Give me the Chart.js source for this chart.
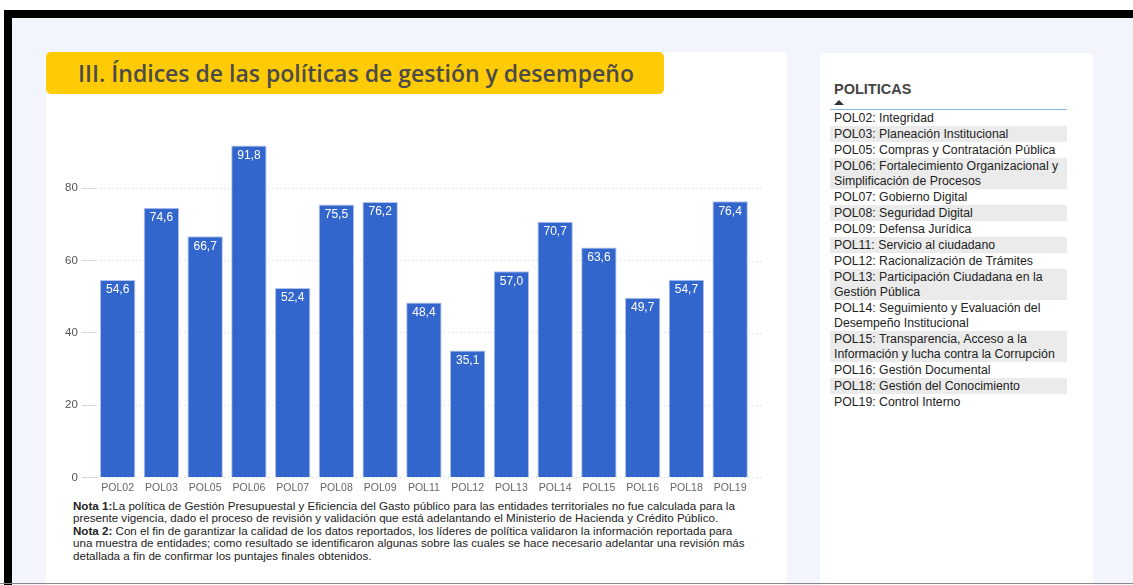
<!DOCTYPE html>
<html lang="es">
<head>
<meta charset="utf-8">
<title>Índices de las políticas de gestión y desempeño</title>
<script src="https://cdn.jsdelivr.net/npm/chart.js@4.4.1/dist/chart.umd.min.js"></script>
<style>
  html, body { margin: 0; padding: 0; width: 1133px; height: 585px; overflow: hidden; background: #fff; font-family: "Liberation Sans", Arial, sans-serif; }
  .frame { position: absolute; left: 4px; top: 10px; right: 0; bottom: 0; border-top: 8px solid #000; border-left: 8px solid #000; background: #f2f5fc; }
  .bottomLine { position: absolute; left: 0; right: 0; top: 583px; height: 1px; background: #888; }
  .card { position: absolute; background: #fff; border-radius: 5px; }
  #leftCard { left: 46px; top: 52px; width: 741px; height: 540px; }
  #rightCard { left: 820px; top: 53px; width: 273px; height: 540px; }
  .banner { position: absolute; left: 46px; top: 52px; width: 618px; height: 42px; background: #ffcb05; border-radius: 5px; }
  .banner h1 { margin: 0; position: absolute; left: 32px; top: 5px; font: 600 23px "Open Sans", sans-serif; color: #4b4b4b; white-space: nowrap; }
  .chartBox { position: absolute; left: 46px; top: 100px; width: 741px; height: 398px; }
  .notes { position: absolute; left: 73px; top: 500px; font-size: 11.6px; line-height: 12.4px; color: #222; white-space: nowrap; }
  .legendTitle { position: absolute; left: 834px; top: 81px; font: bold 14.5px "Liberation Sans", Arial, sans-serif; color: #444; }
  .tri { position: absolute; left: 834px; top: 100px; width: 0; height: 0; border-left: 5px solid transparent; border-right: 5px solid transparent; border-bottom: 5px solid #333; }
  #legendList { position: absolute; left: 830px; top: 109px; width: 237px; border-top: 1px solid #86b5e6; font-size: 12.3px; line-height: 15px; color: #222; }
  #legendList div { padding: 0.5px 4px; }
  #legendList div:nth-child(even) { background: #ebebeb; }
</style>
</head>
<body>
<div class="frame"></div>
<div class="card" id="leftCard"></div>
<div class="card" id="rightCard"></div>
<div class="banner"><h1>III. Índices de las políticas de gestión y desempeño</h1></div>
<div class="chartBox"><canvas id="chartPol"></canvas></div>
<div class="notes">
  <b>Nota 1:</b>La política de Gestión Presupuestal y Eficiencia del Gasto público para las entidades territoriales no fue calculada para la<br>
  presente vigencia, dado el proceso de revisión y validación que está adelantando el Ministerio de Hacienda y Crédito Público.<br>
  <b>Nota 2:</b> Con el fin de garantizar la calidad de los datos reportados, los líderes de política validaron la información reportada para<br>
  una muestra de entidades; como resultado se identificaron algunas sobre las cuales se hace necesario adelantar una revisión más<br>
  detallada a fin de confirmar los puntajes finales obtenidos.
</div>
<div class="legendTitle">POLITICAS</div>
<div class="tri"></div>
<div id="legendList"></div>
<div class="bottomLine"></div>

<script>
  // datos
  const politicas = ['POL02','POL03','POL05','POL06','POL07','POL08','POL09','POL11','POL12','POL13','POL14','POL15','POL16','POL18','POL19'];
  const indices = [54.6, 74.6, 66.7, 91.8, 52.4, 75.5, 76.2, 48.4, 35.1, 57.0, 70.7, 63.6, 49.7, 54.7, 76.4];
  const nombres = [
    'Integridad',
    'Planeación Institucional',
    'Compras y Contratación Pública',
    'Fortalecimiento Organizacional y Simplificación de Procesos',
    'Gobierno Digital',
    'Seguridad Digital',
    'Defensa Jurídica',
    'Servicio al ciudadano',
    'Racionalización de Trámites',
    'Participación Ciudadana en la Gestión Pública',
    'Seguimiento y Evaluación del Desempeño Institucional',
    'Transparencia, Acceso a la Información y lucha contra la Corrupción',
    'Gestión Documental',
    'Gestión del Conocimiento',
    'Control Interno'
  ];
  const yTicks = [0, 20, 40, 60, 80];

  const list = document.getElementById('legendList');
  politicas.forEach((p, i) => {
    const d = document.createElement('div');
    d.textContent = p + ': ' + nombres[i];
    list.appendChild(d);
  });

  const fmt = v => v.toFixed(1).replace('.', ',');

  // etiquetas blancas dentro de cada barra
  const valueLabels = {
    id: 'valueLabels',
    afterDatasetsDraw(chart) {
      const ctx = chart.ctx;
      const meta = chart.getDatasetMeta(0);
      ctx.save();
      ctx.fillStyle = '#fff';
      ctx.font = '12px "Liberation Sans", Arial, sans-serif';
      ctx.textAlign = 'center';
      ctx.textBaseline = 'middle';
      meta.data.forEach((bar, i) => {
        ctx.fillText(fmt(indices[i]), bar.x, bar.y + 10);
      });
      ctx.restore();
    }
  };

  // las líneas de la cuadrícula sobresalen un poco a la derecha
  const gridTail = {
    id: 'gridTail',
    beforeDatasetsDraw(chart) {
      const ctx = chart.ctx, y = chart.scales.y, right = chart.chartArea.right;
      ctx.save();
      ctx.strokeStyle = '#d6d6d6';
      ctx.lineWidth = 1;
      ctx.setLineDash([1, 3]);
      yTicks.forEach(v => {
        const py = Math.round(y.getPixelForValue(v)) + 0.5;
        ctx.beginPath(); ctx.moveTo(right, py); ctx.lineTo(right + 12, py); ctx.stroke();
      });
      ctx.restore();
    }
  };

  Chart.defaults.font.family = '"Liberation Sans", Arial, sans-serif';

  new Chart(document.getElementById('chartPol'), {
    type: 'bar',
    data: {
      labels: politicas,
      datasets: [{
        label: 'Índice',
        data: indices,
        backgroundColor: '#3366cc',
        borderColor: '#b3c3ee',
        borderWidth: 1,
        borderSkipped: 'bottom',
        barPercentage: 0.9,
        categoryPercentage: 0.9
      }]
    },
    options: {
      responsive: true,
      maintainAspectRatio: false,
      animation: false,
      layout: { padding: { left: 15, right: 35, top: 34, bottom: 0 } },
      plugins: { legend: { display: false }, tooltip: { enabled: false } },
      scales: {
        x: {
          grid: { display: false, drawTicks: false },
          border: { display: false },
          ticks: { color: '#666', font: { size: 10.5 }, padding: 4, maxRotation: 0 }
        },
        y: {
          min: 0,
          max: 95,
          border: { display: false, dash: [1, 3] },
          grid: { color: '#d6d6d6', tickLength: 14, lineWidth: 1 },
          afterBuildTicks: s => { s.ticks = yTicks.map(v => ({ value: v })); },
          ticks: { color: '#555', font: { size: 11.5 }, padding: 4 }
        }
      }
    },
    plugins: [valueLabels, gridTail]
  });
</script>
</body>
</html>
